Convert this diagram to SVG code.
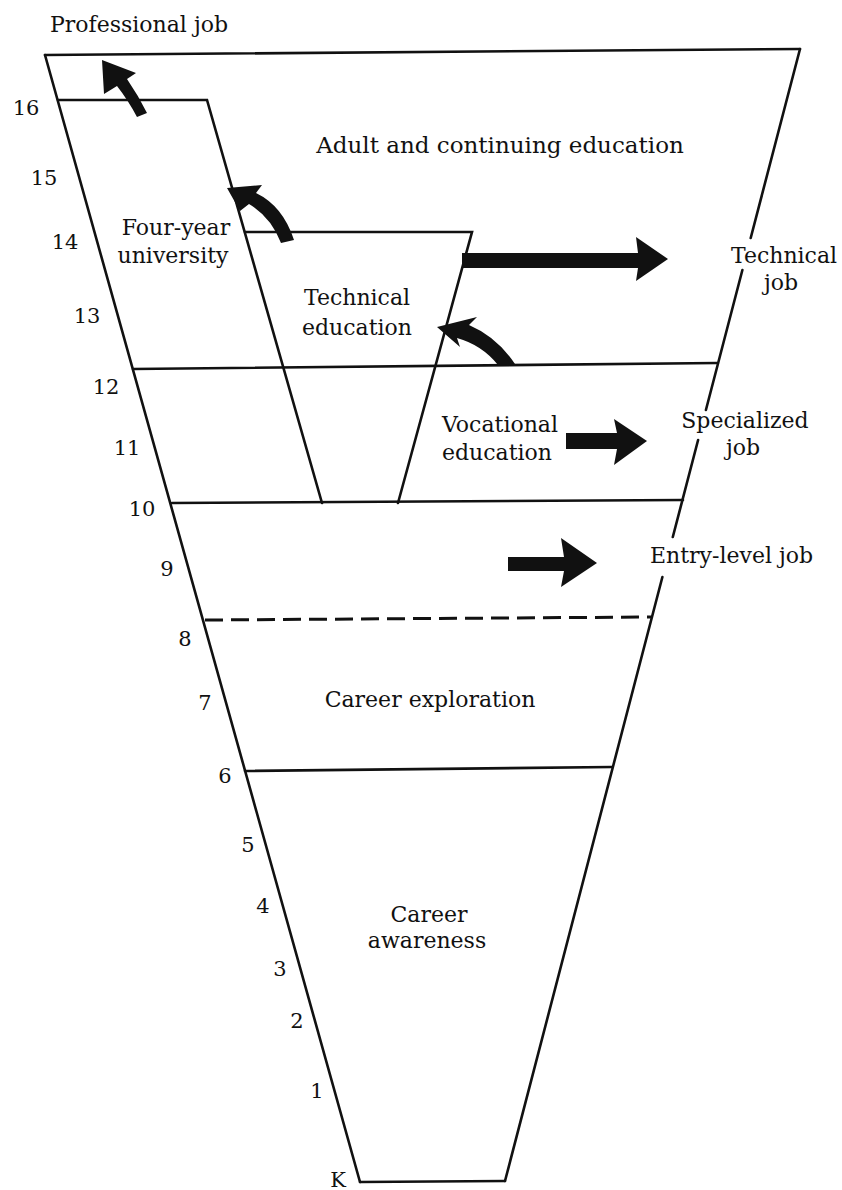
<svg xmlns="http://www.w3.org/2000/svg" width="842" height="1190" viewBox="0 0 842 1190">
<style>
.ln{stroke:#111;stroke-width:2.6;fill:none;stroke-linecap:round}
.dash{stroke:#111;stroke-width:3;fill:none;stroke-dasharray:18 8}
.ar{fill:#111;stroke:none}
.t{font-family:"DejaVu Serif","Liberation Serif",serif;font-size:22px;fill:#111}
.n{font-family:"DejaVu Serif","Liberation Serif",serif;font-size:21px;fill:#111;text-anchor:middle}
.c{text-anchor:middle}
</style>
<rect width="842" height="1190" fill="#fff"/>
<g id="funnel">
<line class="ln" x1="45" y1="55" x2="800" y2="49"/>
<line class="ln" x1="45" y1="55" x2="360" y2="1182"/>
<line class="ln" x1="800" y1="49" x2="750.7" y2="238"/>
<line class="ln" x1="742.4" y1="270" x2="705.9" y2="410"/>
<line class="ln" x1="698.1" y1="440" x2="672.8" y2="537"/>
<line class="ln" x1="662.4" y1="577" x2="505" y2="1181"/>
<line class="ln" x1="360" y1="1182" x2="505" y2="1181"/>
</g>
<g id="four-year-university">
<polyline class="ln" points="58,100 207,100 322,503"/>
<text class="t c" x="176" y="235">Four-year</text>
<text class="t c" x="173" y="263">university</text>
</g>
<g id="technical-education">
<polyline class="ln" points="245,232 472,232 398,503"/>
<text class="t c" x="357" y="305">Technical</text>
<text class="t c" x="357" y="335">education</text>
</g>
<g id="grade-lines">
<line class="ln" x1="133" y1="369" x2="717" y2="363"/>
<line class="ln" x1="172" y1="503" x2="683" y2="500"/>
<line class="dash" x1="205" y1="620" x2="651" y2="617"/>
<line class="ln" x1="245" y1="771" x2="612" y2="767"/>
</g>
<g id="adult-education"><text class="t c" x="500" y="153" style="font-size:23px">Adult and continuing education</text></g>
<g id="vocational-education">
<text class="t" x="442" y="432">Vocational</text>
<text class="t" x="442" y="460">education</text>
</g>
<g id="career-exploration"><text class="t c" x="430" y="707">Career exploration</text></g>
<g id="career-awareness">
<text class="t c" x="429" y="922">Career</text>
<text class="t c" x="427" y="948">awareness</text>
</g>
<g id="professional-job"><text class="t" x="50" y="32">Professional job</text></g>
<g id="technical-job">
<text class="t c" x="784" y="263">Technical</text>
<text class="t c" x="781" y="290">job</text>
</g>
<g id="specialized-job">
<text class="t c" x="745" y="428">Specialized</text>
<text class="t c" x="743" y="455">job</text>
</g>
<g id="entry-level-job"><text class="t" x="650" y="563">Entry-level job</text></g>
<g id="grades">
<text class="n" x="26" y="115">16</text>
<text class="n" x="44" y="185">15</text>
<text class="n" x="65" y="249">14</text>
<text class="n" x="87" y="323">13</text>
<text class="n" x="106" y="394">12</text>
<text class="n" x="127" y="455">11</text>
<text class="n" x="142" y="516">10</text>
<text class="n" x="167" y="576">9</text>
<text class="n" x="185" y="646">8</text>
<text class="n" x="205" y="710">7</text>
<text class="n" x="225" y="783">6</text>
<text class="n" x="248" y="852">5</text>
<text class="n" x="263" y="913">4</text>
<text class="n" x="280" y="976">3</text>
<text class="n" x="297" y="1028">2</text>
<text class="n" x="317" y="1098">1</text>
<text class="n" x="338" y="1187">K</text>
</g>
<g id="connectors">
<path class="ar" d="M102,60 L136,73 L127,79 Q138,95 147,113 L137,117 Q128,100 117,86 L104,94 Z"/>
<path class="ar" d="M227,188 L262,185 L256,193 Q283,206 294,240 L281,243 Q271,217 249,204 L240,211 Z"/>
<path class="ar" d="M437,327 L477,317 L469,325 Q497,337 515,364 L498,365 Q482,345 457,338 L460,347 Z"/>
<path class="ar" d="M462,253 L638,253 L636,237 L668,259 L636,281 L638,268 L462,268 Z"/>
<path class="ar" d="M566,433 L617,433 L614,419 L647,441 L614,465 L617,449 L566,449 Z"/>
<path class="ar" d="M508,557 L564,557 L561,538 L597,563 L561,587 L564,571 L508,571 Z"/>
</g>
</svg>
